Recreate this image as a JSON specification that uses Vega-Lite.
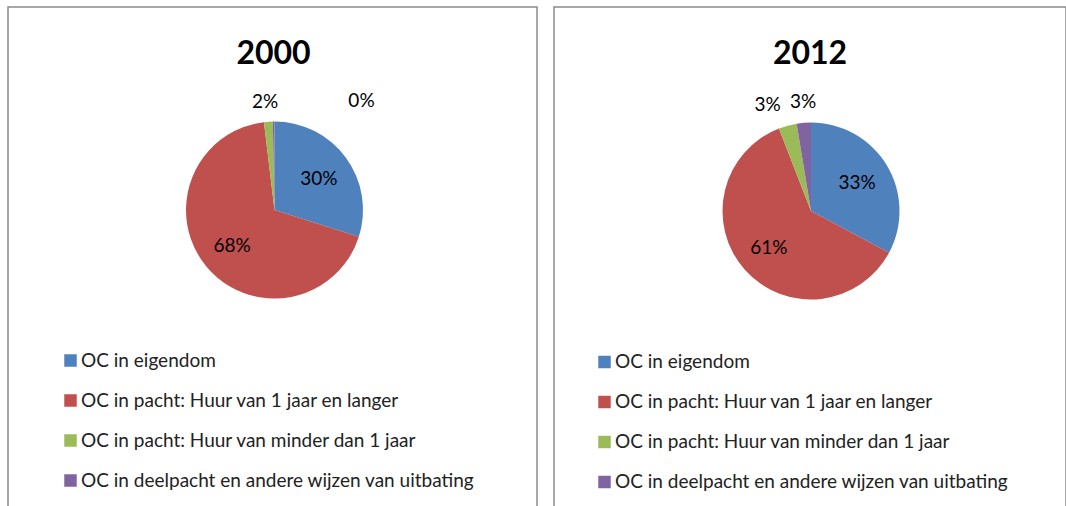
{
  "$schema": "https://vega.github.io/schema/vega-lite/v6.json",
  "padding": {"left": 7, "top": 6, "right": 0, "bottom": 0},
  "background": "white",
  "config": {
    "view": {"stroke": "#8a8a8a", "strokeWidth": 1.5},
    "font": "Lato",
    "concat": {"spacing": 15}
  },
  "datasets": {
    "pie": [
      {"year": 2000, "k": 1, "cat": "OC in eigendom", "pct": 0.299},
      {"year": 2000, "k": 2, "cat": "OC in pacht: Huur van 1 jaar en langer", "pct": 0.682},
      {"year": 2000, "k": 3, "cat": "OC in pacht: Huur van minder dan 1 jaar", "pct": 0.016},
      {"year": 2000, "k": 4, "cat": "OC in deelpacht en andere wijzen van uitbating", "pct": 0.003},
      {"year": 2012, "k": 1, "cat": "OC in eigendom", "pct": 0.328},
      {"year": 2012, "k": 2, "cat": "OC in pacht: Huur van 1 jaar en langer", "pct": 0.613},
      {"year": 2012, "k": 3, "cat": "OC in pacht: Huur van minder dan 1 jaar", "pct": 0.033},
      {"year": 2012, "k": 4, "cat": "OC in deelpacht en andere wijzen van uitbating", "pct": 0.026}
    ]
  },
  "resolve": {"scale": {"color": "independent"}, "legend": {"color": "independent"}},
  "hconcat": [
    {
      "width": 529,
      "height": 520,
      "view": {"stroke": "#8a8a8a", "strokeWidth": 1.5, "fill": "white"},
      "data": {"name": "pie"},
      "transform": [{"filter": "datum.year == 2000"}],
      "title": {"text": "2000", "fontSize": 32, "fontWeight": "bold", "font": "Lato", "color": "#000000", "anchor": "middle", "baseline": "alphabetic", "offset": -89, "dx": 1},
      "encoding": {
        "theta": {"field": "pct", "type": "quantitative", "stack": true},
        "order": {"field": "k", "type": "quantitative"}
      },
      "layer": [
        {
          "mark": {"type": "arc", "outerRadius": 88.5, "xOffset": 2, "yOffset": -57},
          "encoding": {
            "color": {
              "field": "cat", "type": "nominal",
              "scale": {
                "domain": ["OC in eigendom", "OC in pacht: Huur van 1 jaar en langer", "OC in pacht: Huur van minder dan 1 jaar", "OC in deelpacht en andere wijzen van uitbating"],
                "range": ["#4F81BD", "#C0504D", "#9BBB59", "#8064A2"]
              },
              "legend": {"orient": "none", "legendX": 53, "legendY": 344, "title": null, "direction": "vertical", "symbolType": "square", "symbolSize": 156, "symbolStrokeWidth": 0, "labelFontSize": 19, "labelFont": "Lato", "labelColor": "#222222", "labelOffset": 1, "rowPadding": 20, "padding": 0, "labelLimit": 700}
            }
          }
        },
        {
          "mark": {"type": "text", "radius": 55, "dx": 2, "dy": -56, "fontSize": 19, "font": "Lato", "color": "#000000"},
          "encoding": {
            "detail": {"field": "cat"},
            "text": {"condition": {"test": "datum.k <= 2", "field": "pct", "type": "quantitative", "format": ".0%"}, "value": ""}
          }
        },
        {
          "mark": {"type": "text", "radius": 108, "dx": 0, "dy": -57, "fontSize": 19, "font": "Lato", "color": "#000000"},
          "encoding": {
            "detail": {"field": "cat"},
            "text": {"condition": {"test": "datum.k == 3", "field": "pct", "type": "quantitative", "format": ".0%"}, "value": ""}
          }
        },
        {
          "mark": {"type": "text", "radius": 108, "dx": 90, "dy": -58, "fontSize": 19, "font": "Lato", "color": "#000000"},
          "encoding": {
            "detail": {"field": "cat"},
            "text": {"condition": {"test": "datum.k == 4", "field": "pct", "type": "quantitative", "format": ".0%"}, "value": ""}
          }
        }
      ]
    },
    {
      "width": 512,
      "height": 520,
      "view": {"stroke": "#8a8a8a", "strokeWidth": 1.5, "fill": "white"},
      "data": {"name": "pie"},
      "transform": [{"filter": "datum.year == 2012"}],
      "title": {"text": "2012", "fontSize": 32, "fontWeight": "bold", "font": "Lato", "color": "#000000", "anchor": "middle", "baseline": "alphabetic", "offset": -89, "dx": 0},
      "encoding": {
        "theta": {"field": "pct", "type": "quantitative", "stack": true},
        "order": {"field": "k", "type": "quantitative"}
      },
      "layer": [
        {
          "mark": {"type": "arc", "outerRadius": 88.5, "xOffset": 1, "yOffset": -56},
          "encoding": {
            "color": {
              "field": "cat", "type": "nominal",
              "scale": {
                "domain": ["OC in eigendom", "OC in pacht: Huur van 1 jaar en langer", "OC in pacht: Huur van minder dan 1 jaar", "OC in deelpacht en andere wijzen van uitbating"],
                "range": ["#4F81BD", "#C0504D", "#9BBB59", "#8064A2"]
              },
              "legend": {"orient": "none", "legendX": 41, "legendY": 345.5, "title": null, "direction": "vertical", "symbolType": "square", "symbolSize": 156, "symbolStrokeWidth": 0, "labelFontSize": 19, "labelFont": "Lato", "labelColor": "#222222", "labelOffset": 1, "rowPadding": 20, "padding": 0, "labelLimit": 700}
            }
          }
        },
        {
          "mark": {"type": "text", "radius": 55, "dx": 0, "dy": -56, "fontSize": 19, "font": "Lato", "color": "#000000"},
          "encoding": {
            "detail": {"field": "cat"},
            "text": {"condition": {"test": "datum.k <= 2", "field": "pct", "type": "quantitative", "format": ".0%"}, "value": ""}
          }
        },
        {
          "mark": {"type": "text", "radius": 108, "dx": -14, "dy": -58, "fontSize": 19, "font": "Lato", "color": "#000000"},
          "encoding": {
            "detail": {"field": "cat"},
            "text": {"condition": {"test": "datum.k == 3", "field": "pct", "type": "quantitative", "format": ".0%"}, "value": ""}
          }
        },
        {
          "mark": {"type": "text", "radius": 108, "dx": 2, "dy": -57, "fontSize": 19, "font": "Lato", "color": "#000000"},
          "encoding": {
            "detail": {"field": "cat"},
            "text": {"condition": {"test": "datum.k == 4", "field": "pct", "type": "quantitative", "format": ".0%"}, "value": ""}
          }
        }
      ]
    }
  ]
}
